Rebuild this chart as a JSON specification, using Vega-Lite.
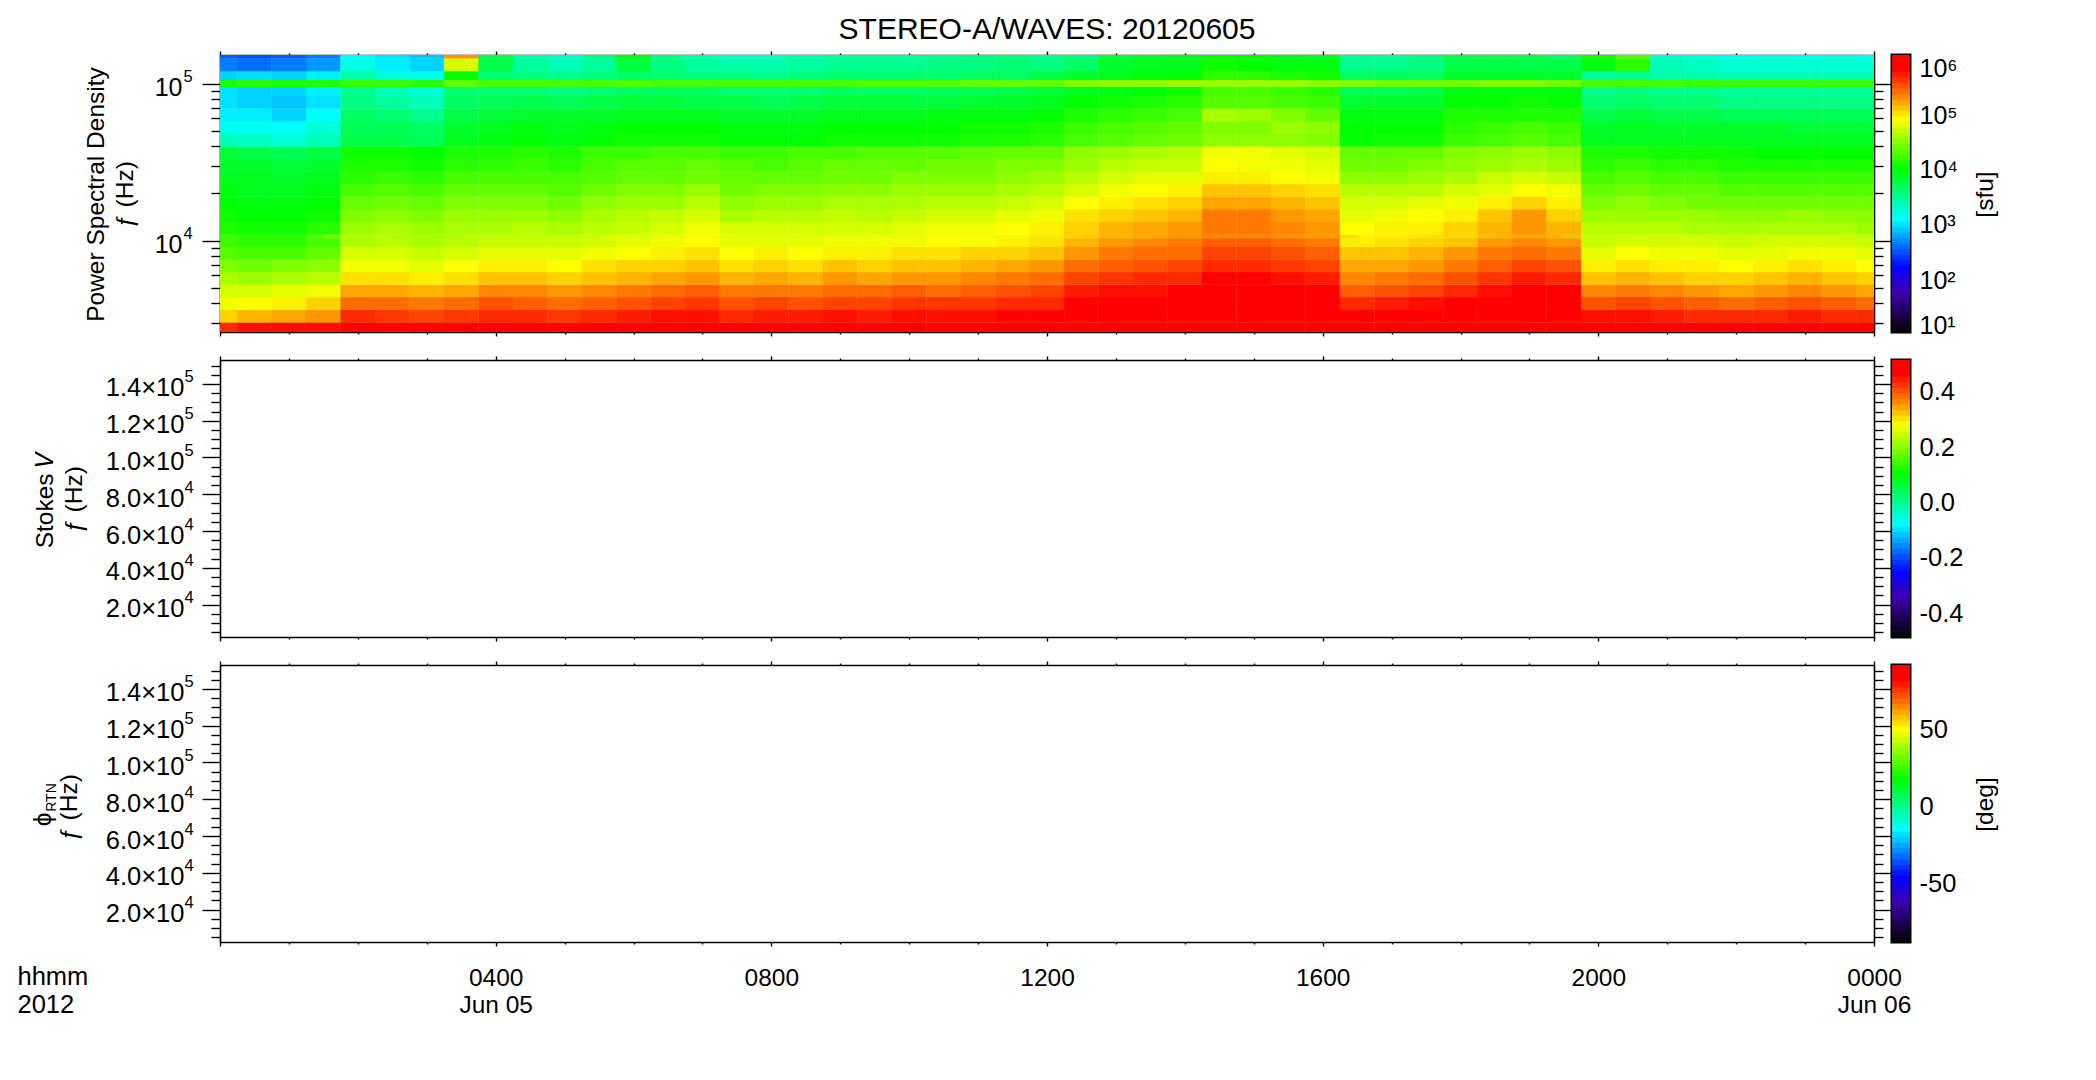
{"$schema":"https://vega.github.io/schema/vega-lite/v6.json","background":"white","padding":{"left":17,"top":15,"right":5,"bottom":5},"autosize":{"type":"pad"},
"config":{"view":{"stroke":null},"axis":{"grid":false,"labelFont":"Liberation Sans","titleFont":"Liberation Sans","labelFontSize":24.5,"titleFontSize":24.5,"titleFontWeight":"normal","labelColor":"black","titleColor":"black","domainColor":"black","tickColor":"black","domainWidth":1.6,"tickWidth":1.4,"labelOverlap":false,"labelFlush":false,"labelBound":false,"zindex":1},"axisY":{"labelFontSize":25}},
"datasets":{"cb":[{"c":0.01,"v":1.05},{"c":0.03,"v":1.15},{"c":0.05,"v":1.25},{"c":0.07,"v":1.35},{"c":0.09,"v":1.45},{"c":0.11,"v":1.55},{"c":0.13,"v":1.65},{"c":0.15,"v":1.75},{"c":0.17,"v":1.85},{"c":0.19,"v":1.95},{"c":0.21,"v":2.05},{"c":0.23,"v":2.15},{"c":0.25,"v":2.25},{"c":0.27,"v":2.35},{"c":0.29,"v":2.45},{"c":0.31,"v":2.55},{"c":0.33,"v":2.65},{"c":0.35,"v":2.75},{"c":0.37,"v":2.85},{"c":0.39,"v":2.95},{"c":0.41,"v":3.05},{"c":0.43,"v":3.15},{"c":0.45,"v":3.25},{"c":0.47,"v":3.35},{"c":0.49,"v":3.45},{"c":0.51,"v":3.55},{"c":0.53,"v":3.65},{"c":0.55,"v":3.75},{"c":0.57,"v":3.85},{"c":0.59,"v":3.95},{"c":0.61,"v":4.05},{"c":0.63,"v":4.15},{"c":0.65,"v":4.25},{"c":0.67,"v":4.35},{"c":0.69,"v":4.45},{"c":0.71,"v":4.55},{"c":0.73,"v":4.65},{"c":0.75,"v":4.75},{"c":0.77,"v":4.85},{"c":0.79,"v":4.95},{"c":0.81,"v":5.05},{"c":0.83,"v":5.15},{"c":0.85,"v":5.25},{"c":0.87,"v":5.35},{"c":0.89,"v":5.45},{"c":0.91,"v":5.55},{"c":0.93,"v":5.65},{"c":0.95,"v":5.75},{"c":0.97,"v":5.85},{"c":0.99,"v":5.95}],
"line5":[{"t":0,"f":100000,"v":4.05},{"t":0.5,"f":100000,"v":4.1},{"t":1,"f":100000,"v":4.05},{"t":1.5,"f":100000,"v":4.05},{"t":2,"f":100000,"v":4.15},{"t":2.5,"f":100000,"v":4.15},{"t":3,"f":100000,"v":4.1},{"t":3.5,"f":100000,"v":4.3},{"t":4,"f":100000,"v":4.2},{"t":4.5,"f":100000,"v":4.2},{"t":5,"f":100000,"v":4.2},{"t":5.5,"f":100000,"v":4.2},{"t":6,"f":100000,"v":4.25},{"t":6.5,"f":100000,"v":4.2},{"t":7,"f":100000,"v":4.2},{"t":7.5,"f":100000,"v":4.2},{"t":8,"f":100000,"v":4.2},{"t":8.5,"f":100000,"v":4.2},{"t":9,"f":100000,"v":4.2},{"t":9.5,"f":100000,"v":4.25},{"t":10,"f":100000,"v":4.25},{"t":10.5,"f":100000,"v":4.25},{"t":11,"f":100000,"v":4.3},{"t":11.5,"f":100000,"v":4.3},{"t":12,"f":100000,"v":4.3},{"t":12.5,"f":100000,"v":4.4},{"t":13,"f":100000,"v":4.45},{"t":13.5,"f":100000,"v":4.45},{"t":14,"f":100000,"v":4.5},{"t":14.5,"f":100000,"v":4.5},{"t":15,"f":100000,"v":4.5},{"t":15.5,"f":100000,"v":4.5},{"t":16,"f":100000,"v":4.45},{"t":16.5,"f":100000,"v":4.4},{"t":17,"f":100000,"v":4.35},{"t":17.5,"f":100000,"v":4.35},{"t":18,"f":100000,"v":4.35},{"t":18.5,"f":100000,"v":4.4},{"t":19,"f":100000,"v":4.4},{"t":19.5,"f":100000,"v":4.35},{"t":20,"f":100000,"v":4.2},{"t":20.5,"f":100000,"v":4.2},{"t":21,"f":100000,"v":4.2},{"t":21.5,"f":100000,"v":4.15},{"t":22,"f":100000,"v":4.15},{"t":22.5,"f":100000,"v":4.15},{"t":23,"f":100000,"v":4.15},{"t":23.5,"f":100000,"v":4.15},{"t":24,"f":100000,"v":4.15}],
"line4":[{"t":2,"f":10600,"v":4.6},{"t":3,"f":10600,"v":4.55},{"t":4,"f":10600,"v":4.6},{"t":5,"f":10600,"v":4.6},{"t":6,"f":10600,"v":4.7},{"t":7,"f":10600,"v":4.75},{"t":8,"f":10600,"v":4.7},{"t":9,"f":10600,"v":4.7},{"t":10,"f":10600,"v":4.75},{"t":11,"f":10600,"v":4.75},{"t":12,"f":10600,"v":4.8},{"t":13,"f":10600,"v":4.95},{"t":14,"f":10600,"v":5.05},{"t":15,"f":10600,"v":5.1},{"t":16,"f":10600,"v":5.05},{"t":17,"f":10600,"v":4.85},{"t":18,"f":10600,"v":4.9},{"t":19,"f":10600,"v":5},{"t":20,"f":10600,"v":4.65},{"t":21,"f":10600,"v":4.65},{"t":22,"f":10600,"v":4.6},{"t":23,"f":10600,"v":4.65},{"t":24,"f":10600,"v":4.6}],
"hm":[
{"t":0,"f":2754,"v":5.6},{"t":0,"f":3311,"v":5},{"t":0,"f":3981,"v":4.8},{"t":0,"f":4786,"v":4.7},{"t":0,"f":5754,"v":4.55},{"t":0,"f":6918,"v":4.4},{"t":0,"f":8318,"v":4.25},{"t":0,"f":10000,"v":4.15},{"t":0,"f":12023,"v":4.05},{"t":0,"f":14454,"v":4},{"t":0,"f":17378,"v":3.95},{"t":0,"f":20893,"v":3.9},{"t":0,"f":25119,"v":3.85},{"t":0,"f":30200,"v":3.8},{"t":0,"f":36308,"v":3.75},{"t":0,"f":43652,"v":3.3},{"t":0,"f":52481,"v":3.1},{"t":0,"f":63096,"v":3},{"t":0,"f":75858,"v":2.95},{"t":0,"f":91201,"v":2.95},{"t":0,"f":109648,"v":2.9},{"t":0,"f":131826,"v":2.6},{"t":0,"f":158489,"v":2.5},
{"t":0.5,"f":2754,"v":5.7},{"t":0.5,"f":3311,"v":5.1},{"t":0.5,"f":3981,"v":4.85},{"t":0.5,"f":4786,"v":4.7},{"t":0.5,"f":5754,"v":4.5},{"t":0.5,"f":6918,"v":4.35},{"t":0.5,"f":8318,"v":4.2},{"t":0.5,"f":10000,"v":4.1},{"t":0.5,"f":12023,"v":4},{"t":0.5,"f":14454,"v":3.95},{"t":0.5,"f":17378,"v":3.9},{"t":0.5,"f":20893,"v":3.85},{"t":0.5,"f":25119,"v":3.85},{"t":0.5,"f":30200,"v":3.8},{"t":0.5,"f":36308,"v":3.7},{"t":0.5,"f":43652,"v":3.25},{"t":0.5,"f":52481,"v":3.1},{"t":0.5,"f":63096,"v":3},{"t":0.5,"f":75858,"v":2.9},{"t":0.5,"f":91201,"v":2.9},{"t":0.5,"f":109648,"v":2.95},{"t":0.5,"f":131826,"v":2.55},{"t":0.5,"f":158489,"v":2.45},
{"t":1,"f":2754,"v":5.7},{"t":1,"f":3311,"v":5.15},{"t":1,"f":3981,"v":4.9},{"t":1,"f":4786,"v":4.75},{"t":1,"f":5754,"v":4.55},{"t":1,"f":6918,"v":4.4},{"t":1,"f":8318,"v":4.2},{"t":1,"f":10000,"v":4.1},{"t":1,"f":12023,"v":4},{"t":1,"f":14454,"v":3.95},{"t":1,"f":17378,"v":3.9},{"t":1,"f":20893,"v":3.85},{"t":1,"f":25119,"v":3.8},{"t":1,"f":30200,"v":3.75},{"t":1,"f":36308,"v":3.65},{"t":1,"f":43652,"v":3.2},{"t":1,"f":52481,"v":3.05},{"t":1,"f":63096,"v":2.9},{"t":1,"f":75858,"v":2.85},{"t":1,"f":91201,"v":2.9},{"t":1,"f":109648,"v":2.9},{"t":1,"f":131826,"v":2.6},{"t":1,"f":158489,"v":2.5},
{"t":1.5,"f":2754,"v":5.7},{"t":1.5,"f":3311,"v":5.2},{"t":1.5,"f":3981,"v":5},{"t":1.5,"f":4786,"v":4.8},{"t":1.5,"f":5754,"v":4.6},{"t":1.5,"f":6918,"v":4.45},{"t":1.5,"f":8318,"v":4.3},{"t":1.5,"f":10000,"v":4.2},{"t":1.5,"f":12023,"v":4.1},{"t":1.5,"f":14454,"v":4},{"t":1.5,"f":17378,"v":3.95},{"t":1.5,"f":20893,"v":3.9},{"t":1.5,"f":25119,"v":3.85},{"t":1.5,"f":30200,"v":3.8},{"t":1.5,"f":36308,"v":3.7},{"t":1.5,"f":43652,"v":3.3},{"t":1.5,"f":52481,"v":3.2},{"t":1.5,"f":63096,"v":3.05},{"t":1.5,"f":75858,"v":2.95},{"t":1.5,"f":91201,"v":3},{"t":1.5,"f":109648,"v":3},{"t":1.5,"f":131826,"v":2.7},{"t":1.5,"f":158489,"v":2.6},
{"t":2,"f":2754,"v":5.8},{"t":2,"f":3311,"v":5.6},{"t":2,"f":3981,"v":5.35},{"t":2,"f":4786,"v":5.15},{"t":2,"f":5754,"v":4.95},{"t":2,"f":6918,"v":4.8},{"t":2,"f":8318,"v":4.7},{"t":2,"f":10000,"v":4.55},{"t":2,"f":12023,"v":4.5},{"t":2,"f":14454,"v":4.4},{"t":2,"f":17378,"v":4.3},{"t":2,"f":20893,"v":4.2},{"t":2,"f":25119,"v":4.1},{"t":2,"f":30200,"v":4.05},{"t":2,"f":36308,"v":4},{"t":2,"f":43652,"v":3.7},{"t":2,"f":52481,"v":3.65},{"t":2,"f":63096,"v":3.6},{"t":2,"f":75858,"v":3.5},{"t":2,"f":91201,"v":3.45},{"t":2,"f":109648,"v":3.35},{"t":2,"f":131826,"v":3.15},{"t":2,"f":158489,"v":3.05},
{"t":2.5,"f":2754,"v":5.8},{"t":2.5,"f":3311,"v":5.55},{"t":2.5,"f":3981,"v":5.35},{"t":2.5,"f":4786,"v":5.15},{"t":2.5,"f":5754,"v":4.95},{"t":2.5,"f":6918,"v":4.8},{"t":2.5,"f":8318,"v":4.7},{"t":2.5,"f":10000,"v":4.6},{"t":2.5,"f":12023,"v":4.55},{"t":2.5,"f":14454,"v":4.45},{"t":2.5,"f":17378,"v":4.35},{"t":2.5,"f":20893,"v":4.25},{"t":2.5,"f":25119,"v":4.15},{"t":2.5,"f":30200,"v":4.05},{"t":2.5,"f":36308,"v":4},{"t":2.5,"f":43652,"v":3.7},{"t":2.5,"f":52481,"v":3.65},{"t":2.5,"f":63096,"v":3.55},{"t":2.5,"f":75858,"v":3.4},{"t":2.5,"f":91201,"v":3.3},{"t":2.5,"f":109648,"v":3.15},{"t":2.5,"f":131826,"v":3},{"t":2.5,"f":158489,"v":2.95},
{"t":3,"f":2754,"v":5.75},{"t":3,"f":3311,"v":5.5},{"t":3,"f":3981,"v":5.3},{"t":3,"f":4786,"v":5.1},{"t":3,"f":5754,"v":4.9},{"t":3,"f":6918,"v":4.75},{"t":3,"f":8318,"v":4.65},{"t":3,"f":10000,"v":4.55},{"t":3,"f":12023,"v":4.5},{"t":3,"f":14454,"v":4.4},{"t":3,"f":17378,"v":4.3},{"t":3,"f":20893,"v":4.2},{"t":3,"f":25119,"v":4.1},{"t":3,"f":30200,"v":4},{"t":3,"f":36308,"v":3.95},{"t":3,"f":43652,"v":3.65},{"t":3,"f":52481,"v":3.6},{"t":3,"f":63096,"v":3.45},{"t":3,"f":75858,"v":3.3},{"t":3,"f":91201,"v":3.2},{"t":3,"f":109648,"v":3.1},{"t":3,"f":131826,"v":2.9},{"t":3,"f":158489,"v":2.85},
{"t":3.5,"f":2754,"v":5.8},{"t":3.5,"f":3311,"v":5.55},{"t":3.5,"f":3981,"v":5.35},{"t":3.5,"f":4786,"v":5.15},{"t":3.5,"f":5754,"v":4.95},{"t":3.5,"f":6918,"v":4.85},{"t":3.5,"f":8318,"v":4.7},{"t":3.5,"f":10000,"v":4.6},{"t":3.5,"f":12023,"v":4.55},{"t":3.5,"f":14454,"v":4.5},{"t":3.5,"f":17378,"v":4.4},{"t":3.5,"f":20893,"v":4.3},{"t":3.5,"f":25119,"v":4.2},{"t":3.5,"f":30200,"v":4.1},{"t":3.5,"f":36308,"v":4.05},{"t":3.5,"f":43652,"v":3.85},{"t":3.5,"f":52481,"v":3.8},{"t":3.5,"f":63096,"v":3.7},{"t":3.5,"f":75858,"v":3.6},{"t":3.5,"f":91201,"v":3.55},{"t":3.5,"f":109648,"v":3.95},{"t":3.5,"f":131826,"v":4.7},{"t":3.5,"f":158489,"v":5.2},
{"t":4,"f":2754,"v":5.85},{"t":4,"f":3311,"v":5.6},{"t":4,"f":3981,"v":5.45},{"t":4,"f":4786,"v":5.25},{"t":4,"f":5754,"v":5.05},{"t":4,"f":6918,"v":4.9},{"t":4,"f":8318,"v":4.75},{"t":4,"f":10000,"v":4.65},{"t":4,"f":12023,"v":4.55},{"t":4,"f":14454,"v":4.5},{"t":4,"f":17378,"v":4.4},{"t":4,"f":20893,"v":4.3},{"t":4,"f":25119,"v":4.2},{"t":4,"f":30200,"v":4.1},{"t":4,"f":36308,"v":4.05},{"t":4,"f":43652,"v":3.9},{"t":4,"f":52481,"v":3.85},{"t":4,"f":63096,"v":3.75},{"t":4,"f":75858,"v":3.65},{"t":4,"f":91201,"v":3.55},{"t":4,"f":109648,"v":3.55},{"t":4,"f":131826,"v":3.7},{"t":4,"f":158489,"v":3.7},
{"t":4.5,"f":2754,"v":5.8},{"t":4.5,"f":3311,"v":5.6},{"t":4.5,"f":3981,"v":5.4},{"t":4.5,"f":4786,"v":5.25},{"t":4.5,"f":5754,"v":5.05},{"t":4.5,"f":6918,"v":4.9},{"t":4.5,"f":8318,"v":4.75},{"t":4.5,"f":10000,"v":4.65},{"t":4.5,"f":12023,"v":4.6},{"t":4.5,"f":14454,"v":4.5},{"t":4.5,"f":17378,"v":4.4},{"t":4.5,"f":20893,"v":4.3},{"t":4.5,"f":25119,"v":4.2},{"t":4.5,"f":30200,"v":4.15},{"t":4.5,"f":36308,"v":4.1},{"t":4.5,"f":43652,"v":3.95},{"t":4.5,"f":52481,"v":3.9},{"t":4.5,"f":63096,"v":3.8},{"t":4.5,"f":75858,"v":3.7},{"t":4.5,"f":91201,"v":3.55},{"t":4.5,"f":109648,"v":3.5},{"t":4.5,"f":131826,"v":3.4},{"t":4.5,"f":158489,"v":3.35},
{"t":5,"f":2754,"v":5.75},{"t":5,"f":3311,"v":5.55},{"t":5,"f":3981,"v":5.35},{"t":5,"f":4786,"v":5.2},{"t":5,"f":5754,"v":5},{"t":5,"f":6918,"v":4.85},{"t":5,"f":8318,"v":4.75},{"t":5,"f":10000,"v":4.65},{"t":5,"f":12023,"v":4.55},{"t":5,"f":14454,"v":4.45},{"t":5,"f":17378,"v":4.35},{"t":5,"f":20893,"v":4.25},{"t":5,"f":25119,"v":4.2},{"t":5,"f":30200,"v":4.1},{"t":5,"f":36308,"v":4.05},{"t":5,"f":43652,"v":3.9},{"t":5,"f":52481,"v":3.85},{"t":5,"f":63096,"v":3.8},{"t":5,"f":75858,"v":3.65},{"t":5,"f":91201,"v":3.5},{"t":5,"f":109648,"v":3.45},{"t":5,"f":131826,"v":3.3},{"t":5,"f":158489,"v":3.25},
{"t":5.5,"f":2754,"v":5.8},{"t":5.5,"f":3311,"v":5.6},{"t":5.5,"f":3981,"v":5.4},{"t":5.5,"f":4786,"v":5.25},{"t":5.5,"f":5754,"v":5.05},{"t":5.5,"f":6918,"v":4.95},{"t":5.5,"f":8318,"v":4.8},{"t":5.5,"f":10000,"v":4.7},{"t":5.5,"f":12023,"v":4.6},{"t":5.5,"f":14454,"v":4.55},{"t":5.5,"f":17378,"v":4.45},{"t":5.5,"f":20893,"v":4.35},{"t":5.5,"f":25119,"v":4.25},{"t":5.5,"f":30200,"v":4.2},{"t":5.5,"f":36308,"v":4.15},{"t":5.5,"f":43652,"v":3.95},{"t":5.5,"f":52481,"v":3.9},{"t":5.5,"f":63096,"v":3.8},{"t":5.5,"f":75858,"v":3.7},{"t":5.5,"f":91201,"v":3.55},{"t":5.5,"f":109648,"v":3.5},{"t":5.5,"f":131826,"v":3.4},{"t":5.5,"f":158489,"v":3.5},
{"t":6,"f":2754,"v":5.85},{"t":6,"f":3311,"v":5.65},{"t":6,"f":3981,"v":5.45},{"t":6,"f":4786,"v":5.3},{"t":6,"f":5754,"v":5.1},{"t":6,"f":6918,"v":5},{"t":6,"f":8318,"v":4.85},{"t":6,"f":10000,"v":4.75},{"t":6,"f":12023,"v":4.65},{"t":6,"f":14454,"v":4.6},{"t":6,"f":17378,"v":4.5},{"t":6,"f":20893,"v":4.4},{"t":6,"f":25119,"v":4.3},{"t":6,"f":30200,"v":4.25},{"t":6,"f":36308,"v":4.15},{"t":6,"f":43652,"v":4},{"t":6,"f":52481,"v":3.95},{"t":6,"f":63096,"v":3.85},{"t":6,"f":75858,"v":3.75},{"t":6,"f":91201,"v":3.6},{"t":6,"f":109648,"v":3.6},{"t":6,"f":131826,"v":3.75},{"t":6,"f":158489,"v":3.9},
{"t":6.5,"f":2754,"v":5.85},{"t":6.5,"f":3311,"v":5.7},{"t":6.5,"f":3981,"v":5.5},{"t":6.5,"f":4786,"v":5.35},{"t":6.5,"f":5754,"v":5.15},{"t":6.5,"f":6918,"v":5},{"t":6.5,"f":8318,"v":4.9},{"t":6.5,"f":10000,"v":4.8},{"t":6.5,"f":12023,"v":4.7},{"t":6.5,"f":14454,"v":4.65},{"t":6.5,"f":17378,"v":4.5},{"t":6.5,"f":20893,"v":4.4},{"t":6.5,"f":25119,"v":4.3},{"t":6.5,"f":30200,"v":4.25},{"t":6.5,"f":36308,"v":4.2},{"t":6.5,"f":43652,"v":4},{"t":6.5,"f":52481,"v":3.95},{"t":6.5,"f":63096,"v":3.85},{"t":6.5,"f":75858,"v":3.75},{"t":6.5,"f":91201,"v":3.6},{"t":6.5,"f":109648,"v":3.55},{"t":6.5,"f":131826,"v":3.5},{"t":6.5,"f":158489,"v":3.5},
{"t":7,"f":2754,"v":5.9},{"t":7,"f":3311,"v":5.7},{"t":7,"f":3981,"v":5.55},{"t":7,"f":4786,"v":5.4},{"t":7,"f":5754,"v":5.2},{"t":7,"f":6918,"v":5.05},{"t":7,"f":8318,"v":4.95},{"t":7,"f":10000,"v":4.85},{"t":7,"f":12023,"v":4.8},{"t":7,"f":14454,"v":4.7},{"t":7,"f":17378,"v":4.6},{"t":7,"f":20893,"v":4.5},{"t":7,"f":25119,"v":4.35},{"t":7,"f":30200,"v":4.3},{"t":7,"f":36308,"v":4.2},{"t":7,"f":43652,"v":4},{"t":7,"f":52481,"v":3.95},{"t":7,"f":63096,"v":3.85},{"t":7,"f":75858,"v":3.7},{"t":7,"f":91201,"v":3.6},{"t":7,"f":109648,"v":3.5},{"t":7,"f":131826,"v":3.4},{"t":7,"f":158489,"v":3.35},
{"t":7.5,"f":2754,"v":5.8},{"t":7.5,"f":3311,"v":5.6},{"t":7.5,"f":3981,"v":5.45},{"t":7.5,"f":4786,"v":5.3},{"t":7.5,"f":5754,"v":5.1},{"t":7.5,"f":6918,"v":4.95},{"t":7.5,"f":8318,"v":4.85},{"t":7.5,"f":10000,"v":4.75},{"t":7.5,"f":12023,"v":4.7},{"t":7.5,"f":14454,"v":4.55},{"t":7.5,"f":17378,"v":4.45},{"t":7.5,"f":20893,"v":4.35},{"t":7.5,"f":25119,"v":4.3},{"t":7.5,"f":30200,"v":4.25},{"t":7.5,"f":36308,"v":4.15},{"t":7.5,"f":43652,"v":3.95},{"t":7.5,"f":52481,"v":3.9},{"t":7.5,"f":63096,"v":3.8},{"t":7.5,"f":75858,"v":3.7},{"t":7.5,"f":91201,"v":3.55},{"t":7.5,"f":109648,"v":3.5},{"t":7.5,"f":131826,"v":3.35},{"t":7.5,"f":158489,"v":3.3},
{"t":8,"f":2754,"v":5.85},{"t":8,"f":3311,"v":5.65},{"t":8,"f":3981,"v":5.5},{"t":8,"f":4786,"v":5.3},{"t":8,"f":5754,"v":5.15},{"t":8,"f":6918,"v":5},{"t":8,"f":8318,"v":4.9},{"t":8,"f":10000,"v":4.75},{"t":8,"f":12023,"v":4.7},{"t":8,"f":14454,"v":4.6},{"t":8,"f":17378,"v":4.5},{"t":8,"f":20893,"v":4.4},{"t":8,"f":25119,"v":4.3},{"t":8,"f":30200,"v":4.2},{"t":8,"f":36308,"v":4.15},{"t":8,"f":43652,"v":3.95},{"t":8,"f":52481,"v":3.9},{"t":8,"f":63096,"v":3.8},{"t":8,"f":75858,"v":3.65},{"t":8,"f":91201,"v":3.55},{"t":8,"f":109648,"v":3.45},{"t":8,"f":131826,"v":3.35},{"t":8,"f":158489,"v":3.3},
{"t":8.5,"f":2754,"v":5.8},{"t":8.5,"f":3311,"v":5.65},{"t":8.5,"f":3981,"v":5.45},{"t":8.5,"f":4786,"v":5.3},{"t":8.5,"f":5754,"v":5.1},{"t":8.5,"f":6918,"v":4.95},{"t":8.5,"f":8318,"v":4.85},{"t":8.5,"f":10000,"v":4.75},{"t":8.5,"f":12023,"v":4.7},{"t":8.5,"f":14454,"v":4.6},{"t":8.5,"f":17378,"v":4.5},{"t":8.5,"f":20893,"v":4.4},{"t":8.5,"f":25119,"v":4.3},{"t":8.5,"f":30200,"v":4.25},{"t":8.5,"f":36308,"v":4.2},{"t":8.5,"f":43652,"v":3.95},{"t":8.5,"f":52481,"v":3.9},{"t":8.5,"f":63096,"v":3.8},{"t":8.5,"f":75858,"v":3.7},{"t":8.5,"f":91201,"v":3.55},{"t":8.5,"f":109648,"v":3.5},{"t":8.5,"f":131826,"v":3.4},{"t":8.5,"f":158489,"v":3.35},
{"t":9,"f":2754,"v":5.85},{"t":9,"f":3311,"v":5.7},{"t":9,"f":3981,"v":5.5},{"t":9,"f":4786,"v":5.35},{"t":9,"f":5754,"v":5.2},{"t":9,"f":6918,"v":5.05},{"t":9,"f":8318,"v":4.9},{"t":9,"f":10000,"v":4.8},{"t":9,"f":12023,"v":4.7},{"t":9,"f":14454,"v":4.65},{"t":9,"f":17378,"v":4.55},{"t":9,"f":20893,"v":4.45},{"t":9,"f":25119,"v":4.35},{"t":9,"f":30200,"v":4.3},{"t":9,"f":36308,"v":4.2},{"t":9,"f":43652,"v":4},{"t":9,"f":52481,"v":3.95},{"t":9,"f":63096,"v":3.85},{"t":9,"f":75858,"v":3.75},{"t":9,"f":91201,"v":3.6},{"t":9,"f":109648,"v":3.55},{"t":9,"f":131826,"v":3.45},{"t":9,"f":158489,"v":3.4},
{"t":9.5,"f":2754,"v":5.85},{"t":9.5,"f":3311,"v":5.65},{"t":9.5,"f":3981,"v":5.5},{"t":9.5,"f":4786,"v":5.35},{"t":9.5,"f":5754,"v":5.15},{"t":9.5,"f":6918,"v":5},{"t":9.5,"f":8318,"v":4.9},{"t":9.5,"f":10000,"v":4.8},{"t":9.5,"f":12023,"v":4.7},{"t":9.5,"f":14454,"v":4.6},{"t":9.5,"f":17378,"v":4.55},{"t":9.5,"f":20893,"v":4.45},{"t":9.5,"f":25119,"v":4.35},{"t":9.5,"f":30200,"v":4.3},{"t":9.5,"f":36308,"v":4.25},{"t":9.5,"f":43652,"v":4},{"t":9.5,"f":52481,"v":3.95},{"t":9.5,"f":63096,"v":3.85},{"t":9.5,"f":75858,"v":3.75},{"t":9.5,"f":91201,"v":3.6},{"t":9.5,"f":109648,"v":3.55},{"t":9.5,"f":131826,"v":3.45},{"t":9.5,"f":158489,"v":3.4},
{"t":10,"f":2754,"v":5.85},{"t":10,"f":3311,"v":5.7},{"t":10,"f":3981,"v":5.55},{"t":10,"f":4786,"v":5.4},{"t":10,"f":5754,"v":5.2},{"t":10,"f":6918,"v":5.05},{"t":10,"f":8318,"v":4.95},{"t":10,"f":10000,"v":4.8},{"t":10,"f":12023,"v":4.75},{"t":10,"f":14454,"v":4.65},{"t":10,"f":17378,"v":4.55},{"t":10,"f":20893,"v":4.5},{"t":10,"f":25119,"v":4.4},{"t":10,"f":30200,"v":4.3},{"t":10,"f":36308,"v":4.25},{"t":10,"f":43652,"v":4},{"t":10,"f":52481,"v":3.95},{"t":10,"f":63096,"v":3.85},{"t":10,"f":75858,"v":3.75},{"t":10,"f":91201,"v":3.6},{"t":10,"f":109648,"v":3.55},{"t":10,"f":131826,"v":3.45},{"t":10,"f":158489,"v":3.4},
{"t":10.5,"f":2754,"v":5.85},{"t":10.5,"f":3311,"v":5.7},{"t":10.5,"f":3981,"v":5.55},{"t":10.5,"f":4786,"v":5.35},{"t":10.5,"f":5754,"v":5.2},{"t":10.5,"f":6918,"v":5.05},{"t":10.5,"f":8318,"v":4.95},{"t":10.5,"f":10000,"v":4.85},{"t":10.5,"f":12023,"v":4.8},{"t":10.5,"f":14454,"v":4.7},{"t":10.5,"f":17378,"v":4.6},{"t":10.5,"f":20893,"v":4.5},{"t":10.5,"f":25119,"v":4.4},{"t":10.5,"f":30200,"v":4.35},{"t":10.5,"f":36308,"v":4.25},{"t":10.5,"f":43652,"v":4},{"t":10.5,"f":52481,"v":3.95},{"t":10.5,"f":63096,"v":3.9},{"t":10.5,"f":75858,"v":3.75},{"t":10.5,"f":91201,"v":3.65},{"t":10.5,"f":109648,"v":3.55},{"t":10.5,"f":131826,"v":3.5},{"t":10.5,"f":158489,"v":3.45},
{"t":11,"f":2754,"v":5.9},{"t":11,"f":3311,"v":5.7},{"t":11,"f":3981,"v":5.55},{"t":11,"f":4786,"v":5.4},{"t":11,"f":5754,"v":5.25},{"t":11,"f":6918,"v":5.1},{"t":11,"f":8318,"v":5},{"t":11,"f":10000,"v":4.85},{"t":11,"f":12023,"v":4.8},{"t":11,"f":14454,"v":4.7},{"t":11,"f":17378,"v":4.6},{"t":11,"f":20893,"v":4.5},{"t":11,"f":25119,"v":4.4},{"t":11,"f":30200,"v":4.35},{"t":11,"f":36308,"v":4.3},{"t":11,"f":43652,"v":4.05},{"t":11,"f":52481,"v":4},{"t":11,"f":63096,"v":3.9},{"t":11,"f":75858,"v":3.8},{"t":11,"f":91201,"v":3.65},{"t":11,"f":109648,"v":3.6},{"t":11,"f":131826,"v":3.5},{"t":11,"f":158489,"v":3.5},
{"t":11.5,"f":2754,"v":5.9},{"t":11.5,"f":3311,"v":5.75},{"t":11.5,"f":3981,"v":5.6},{"t":11.5,"f":4786,"v":5.45},{"t":11.5,"f":5754,"v":5.3},{"t":11.5,"f":6918,"v":5.15},{"t":11.5,"f":8318,"v":5},{"t":11.5,"f":10000,"v":4.9},{"t":11.5,"f":12023,"v":4.85},{"t":11.5,"f":14454,"v":4.75},{"t":11.5,"f":17378,"v":4.65},{"t":11.5,"f":20893,"v":4.55},{"t":11.5,"f":25119,"v":4.45},{"t":11.5,"f":30200,"v":4.4},{"t":11.5,"f":36308,"v":4.3},{"t":11.5,"f":43652,"v":4.05},{"t":11.5,"f":52481,"v":4},{"t":11.5,"f":63096,"v":3.9},{"t":11.5,"f":75858,"v":3.8},{"t":11.5,"f":91201,"v":3.7},{"t":11.5,"f":109648,"v":3.6},{"t":11.5,"f":131826,"v":3.55},{"t":11.5,"f":158489,"v":3.5},
{"t":12,"f":2754,"v":5.9},{"t":12,"f":3311,"v":5.75},{"t":12,"f":3981,"v":5.6},{"t":12,"f":4786,"v":5.5},{"t":12,"f":5754,"v":5.35},{"t":12,"f":6918,"v":5.2},{"t":12,"f":8318,"v":5.05},{"t":12,"f":10000,"v":4.95},{"t":12,"f":12023,"v":4.9},{"t":12,"f":14454,"v":4.8},{"t":12,"f":17378,"v":4.7},{"t":12,"f":20893,"v":4.6},{"t":12,"f":25119,"v":4.5},{"t":12,"f":30200,"v":4.4},{"t":12,"f":36308,"v":4.3},{"t":12,"f":43652,"v":4.1},{"t":12,"f":52481,"v":4.05},{"t":12,"f":63096,"v":3.95},{"t":12,"f":75858,"v":3.85},{"t":12,"f":91201,"v":3.75},{"t":12,"f":109648,"v":3.7},{"t":12,"f":131826,"v":3.5},{"t":12,"f":158489,"v":3.45},
{"t":12.5,"f":2754,"v":5.95},{"t":12.5,"f":3311,"v":5.85},{"t":12.5,"f":3981,"v":5.75},{"t":12.5,"f":4786,"v":5.65},{"t":12.5,"f":5754,"v":5.5},{"t":12.5,"f":6918,"v":5.35},{"t":12.5,"f":8318,"v":5.2},{"t":12.5,"f":10000,"v":5.1},{"t":12.5,"f":12023,"v":5},{"t":12.5,"f":14454,"v":4.95},{"t":12.5,"f":17378,"v":4.85},{"t":12.5,"f":20893,"v":4.7},{"t":12.5,"f":25119,"v":4.6},{"t":12.5,"f":30200,"v":4.5},{"t":12.5,"f":36308,"v":4.45},{"t":12.5,"f":43652,"v":4.2},{"t":12.5,"f":52481,"v":4.15},{"t":12.5,"f":63096,"v":4.05},{"t":12.5,"f":75858,"v":3.95},{"t":12.5,"f":91201,"v":3.85},{"t":12.5,"f":109648,"v":3.8},{"t":12.5,"f":131826,"v":3.6},{"t":12.5,"f":158489,"v":3.5},
{"t":13,"f":2754,"v":5.95},{"t":13,"f":3311,"v":5.9},{"t":13,"f":3981,"v":5.8},{"t":13,"f":4786,"v":5.7},{"t":13,"f":5754,"v":5.55},{"t":13,"f":6918,"v":5.4},{"t":13,"f":8318,"v":5.3},{"t":13,"f":10000,"v":5.2},{"t":13,"f":12023,"v":5.1},{"t":13,"f":14454,"v":5},{"t":13,"f":17378,"v":4.9},{"t":13,"f":20893,"v":4.8},{"t":13,"f":25119,"v":4.7},{"t":13,"f":30200,"v":4.6},{"t":13,"f":36308,"v":4.5},{"t":13,"f":43652,"v":4.25},{"t":13,"f":52481,"v":4.2},{"t":13,"f":63096,"v":4.1},{"t":13,"f":75858,"v":4},{"t":13,"f":91201,"v":3.9},{"t":13,"f":109648,"v":3.85},{"t":13,"f":131826,"v":3.8},{"t":13,"f":158489,"v":3.75},
{"t":13.5,"f":2754,"v":5.95},{"t":13.5,"f":3311,"v":5.9},{"t":13.5,"f":3981,"v":5.85},{"t":13.5,"f":4786,"v":5.7},{"t":13.5,"f":5754,"v":5.6},{"t":13.5,"f":6918,"v":5.45},{"t":13.5,"f":8318,"v":5.35},{"t":13.5,"f":10000,"v":5.25},{"t":13.5,"f":12023,"v":5.15},{"t":13.5,"f":14454,"v":5.05},{"t":13.5,"f":17378,"v":4.95},{"t":13.5,"f":20893,"v":4.85},{"t":13.5,"f":25119,"v":4.75},{"t":13.5,"f":30200,"v":4.65},{"t":13.5,"f":36308,"v":4.55},{"t":13.5,"f":43652,"v":4.3},{"t":13.5,"f":52481,"v":4.25},{"t":13.5,"f":63096,"v":4.15},{"t":13.5,"f":75858,"v":4.05},{"t":13.5,"f":91201,"v":3.95},{"t":13.5,"f":109648,"v":3.9},{"t":13.5,"f":131826,"v":3.85},{"t":13.5,"f":158489,"v":3.8},
{"t":14,"f":2754,"v":6},{"t":14,"f":3311,"v":5.95},{"t":14,"f":3981,"v":5.85},{"t":14,"f":4786,"v":5.75},{"t":14,"f":5754,"v":5.6},{"t":14,"f":6918,"v":5.5},{"t":14,"f":8318,"v":5.35},{"t":14,"f":10000,"v":5.3},{"t":14,"f":12023,"v":5.2},{"t":14,"f":14454,"v":5.1},{"t":14,"f":17378,"v":5},{"t":14,"f":20893,"v":4.9},{"t":14,"f":25119,"v":4.75},{"t":14,"f":30200,"v":4.65},{"t":14,"f":36308,"v":4.6},{"t":14,"f":43652,"v":4.35},{"t":14,"f":52481,"v":4.3},{"t":14,"f":63096,"v":4.2},{"t":14,"f":75858,"v":4.1},{"t":14,"f":91201,"v":4},{"t":14,"f":109648,"v":3.95},{"t":14,"f":131826,"v":3.85},{"t":14,"f":158489,"v":3.85},
{"t":14.5,"f":2754,"v":6},{"t":14.5,"f":3311,"v":5.95},{"t":14.5,"f":3981,"v":5.9},{"t":14.5,"f":4786,"v":5.85},{"t":14.5,"f":5754,"v":5.8},{"t":14.5,"f":6918,"v":5.6},{"t":14.5,"f":8318,"v":5.5},{"t":14.5,"f":10000,"v":5.4},{"t":14.5,"f":12023,"v":5.3},{"t":14.5,"f":14454,"v":5.3},{"t":14.5,"f":17378,"v":5.15},{"t":14.5,"f":20893,"v":5.05},{"t":14.5,"f":25119,"v":4.9},{"t":14.5,"f":30200,"v":4.85},{"t":14.5,"f":36308,"v":4.8},{"t":14.5,"f":43652,"v":4.45},{"t":14.5,"f":52481,"v":4.4},{"t":14.5,"f":63096,"v":4.55},{"t":14.5,"f":75858,"v":4.25},{"t":14.5,"f":91201,"v":4.2},{"t":14.5,"f":109648,"v":4.1},{"t":14.5,"f":131826,"v":4},{"t":14.5,"f":158489,"v":3.95},
{"t":15,"f":2754,"v":6},{"t":15,"f":3311,"v":5.95},{"t":15,"f":3981,"v":5.9},{"t":15,"f":4786,"v":5.85},{"t":15,"f":5754,"v":5.75},{"t":15,"f":6918,"v":5.6},{"t":15,"f":8318,"v":5.5},{"t":15,"f":10000,"v":5.4},{"t":15,"f":12023,"v":5.3},{"t":15,"f":14454,"v":5.3},{"t":15,"f":17378,"v":5.15},{"t":15,"f":20893,"v":5.05},{"t":15,"f":25119,"v":4.9},{"t":15,"f":30200,"v":4.8},{"t":15,"f":36308,"v":4.8},{"t":15,"f":43652,"v":4.45},{"t":15,"f":52481,"v":4.4},{"t":15,"f":63096,"v":4.5},{"t":15,"f":75858,"v":4.25},{"t":15,"f":91201,"v":4.2},{"t":15,"f":109648,"v":4.1},{"t":15,"f":131826,"v":3.95},{"t":15,"f":158489,"v":3.95},
{"t":15.5,"f":2754,"v":6},{"t":15.5,"f":3311,"v":5.95},{"t":15.5,"f":3981,"v":5.9},{"t":15.5,"f":4786,"v":5.85},{"t":15.5,"f":5754,"v":5.7},{"t":15.5,"f":6918,"v":5.55},{"t":15.5,"f":8318,"v":5.45},{"t":15.5,"f":10000,"v":5.35},{"t":15.5,"f":12023,"v":5.25},{"t":15.5,"f":14454,"v":5.2},{"t":15.5,"f":17378,"v":5.1},{"t":15.5,"f":20893,"v":5},{"t":15.5,"f":25119,"v":4.85},{"t":15.5,"f":30200,"v":4.8},{"t":15.5,"f":36308,"v":4.75},{"t":15.5,"f":43652,"v":4.45},{"t":15.5,"f":52481,"v":4.5},{"t":15.5,"f":63096,"v":4.4},{"t":15.5,"f":75858,"v":4.2},{"t":15.5,"f":91201,"v":4.15},{"t":15.5,"f":109648,"v":4.05},{"t":15.5,"f":131826,"v":3.9},{"t":15.5,"f":158489,"v":3.9},
{"t":16,"f":2754,"v":6},{"t":16,"f":3311,"v":5.95},{"t":16,"f":3981,"v":5.9},{"t":16,"f":4786,"v":5.8},{"t":16,"f":5754,"v":5.65},{"t":16,"f":6918,"v":5.5},{"t":16,"f":8318,"v":5.4},{"t":16,"f":10000,"v":5.3},{"t":16,"f":12023,"v":5.2},{"t":16,"f":14454,"v":5.15},{"t":16,"f":17378,"v":5.05},{"t":16,"f":20893,"v":4.95},{"t":16,"f":25119,"v":4.8},{"t":16,"f":30200,"v":4.75},{"t":16,"f":36308,"v":4.7},{"t":16,"f":43652,"v":4.4},{"t":16,"f":52481,"v":4.45},{"t":16,"f":63096,"v":4.3},{"t":16,"f":75858,"v":4.15},{"t":16,"f":91201,"v":4.1},{"t":16,"f":109648,"v":4},{"t":16,"f":131826,"v":3.9},{"t":16,"f":158489,"v":3.85},
{"t":16.5,"f":2754,"v":5.95},{"t":16.5,"f":3311,"v":5.85},{"t":16.5,"f":3981,"v":5.6},{"t":16.5,"f":4786,"v":5.4},{"t":16.5,"f":5754,"v":5.25},{"t":16.5,"f":6918,"v":5.15},{"t":16.5,"f":8318,"v":5.05},{"t":16.5,"f":10000,"v":4.9},{"t":16.5,"f":12023,"v":4.85},{"t":16.5,"f":14454,"v":4.75},{"t":16.5,"f":17378,"v":4.7},{"t":16.5,"f":20893,"v":4.6},{"t":16.5,"f":25119,"v":4.45},{"t":16.5,"f":30200,"v":4.35},{"t":16.5,"f":36308,"v":4.3},{"t":16.5,"f":43652,"v":3.95},{"t":16.5,"f":52481,"v":3.95},{"t":16.5,"f":63096,"v":3.9},{"t":16.5,"f":75858,"v":3.8},{"t":16.5,"f":91201,"v":3.65},{"t":16.5,"f":109648,"v":3.6},{"t":16.5,"f":131826,"v":3.45},{"t":16.5,"f":158489,"v":3.4},
{"t":17,"f":2754,"v":5.95},{"t":17,"f":3311,"v":5.85},{"t":17,"f":3981,"v":5.65},{"t":17,"f":4786,"v":5.45},{"t":17,"f":5754,"v":5.3},{"t":17,"f":6918,"v":5.15},{"t":17,"f":8318,"v":5.05},{"t":17,"f":10000,"v":4.95},{"t":17,"f":12023,"v":4.9},{"t":17,"f":14454,"v":4.8},{"t":17,"f":17378,"v":4.7},{"t":17,"f":20893,"v":4.6},{"t":17,"f":25119,"v":4.45},{"t":17,"f":30200,"v":4.35},{"t":17,"f":36308,"v":4.3},{"t":17,"f":43652,"v":4},{"t":17,"f":52481,"v":3.95},{"t":17,"f":63096,"v":3.9},{"t":17,"f":75858,"v":3.8},{"t":17,"f":91201,"v":3.65},{"t":17,"f":109648,"v":3.6},{"t":17,"f":131826,"v":3.45},{"t":17,"f":158489,"v":3.4},
{"t":17.5,"f":2754,"v":5.95},{"t":17.5,"f":3311,"v":5.85},{"t":17.5,"f":3981,"v":5.7},{"t":17.5,"f":4786,"v":5.5},{"t":17.5,"f":5754,"v":5.35},{"t":17.5,"f":6918,"v":5.2},{"t":17.5,"f":8318,"v":5.1},{"t":17.5,"f":10000,"v":5},{"t":17.5,"f":12023,"v":4.9},{"t":17.5,"f":14454,"v":4.85},{"t":17.5,"f":17378,"v":4.75},{"t":17.5,"f":20893,"v":4.6},{"t":17.5,"f":25119,"v":4.5},{"t":17.5,"f":30200,"v":4.4},{"t":17.5,"f":36308,"v":4.3},{"t":17.5,"f":43652,"v":4},{"t":17.5,"f":52481,"v":3.95},{"t":17.5,"f":63096,"v":3.9},{"t":17.5,"f":75858,"v":3.8},{"t":17.5,"f":91201,"v":3.7},{"t":17.5,"f":109648,"v":3.6},{"t":17.5,"f":131826,"v":3.5},{"t":17.5,"f":158489,"v":3.5},
{"t":18,"f":2754,"v":5.95},{"t":18,"f":3311,"v":5.9},{"t":18,"f":3981,"v":5.8},{"t":18,"f":4786,"v":5.6},{"t":18,"f":5754,"v":5.45},{"t":18,"f":6918,"v":5.3},{"t":18,"f":8318,"v":5.2},{"t":18,"f":10000,"v":5.05},{"t":18,"f":12023,"v":5},{"t":18,"f":14454,"v":4.9},{"t":18,"f":17378,"v":4.8},{"t":18,"f":20893,"v":4.7},{"t":18,"f":25119,"v":4.55},{"t":18,"f":30200,"v":4.45},{"t":18,"f":36308,"v":4.4},{"t":18,"f":43652,"v":4.15},{"t":18,"f":52481,"v":4.1},{"t":18,"f":63096,"v":4.05},{"t":18,"f":75858,"v":3.95},{"t":18,"f":91201,"v":3.9},{"t":18,"f":109648,"v":3.8},{"t":18,"f":131826,"v":3.7},{"t":18,"f":158489,"v":3.7},
{"t":18.5,"f":2754,"v":5.95},{"t":18.5,"f":3311,"v":5.9},{"t":18.5,"f":3981,"v":5.85},{"t":18.5,"f":4786,"v":5.7},{"t":18.5,"f":5754,"v":5.55},{"t":18.5,"f":6918,"v":5.4},{"t":18.5,"f":8318,"v":5.3},{"t":18.5,"f":10000,"v":5.2},{"t":18.5,"f":12023,"v":5.1},{"t":18.5,"f":14454,"v":5.05},{"t":18.5,"f":17378,"v":4.9},{"t":18.5,"f":20893,"v":4.75},{"t":18.5,"f":25119,"v":4.65},{"t":18.5,"f":30200,"v":4.5},{"t":18.5,"f":36308,"v":4.45},{"t":18.5,"f":43652,"v":4.2},{"t":18.5,"f":52481,"v":4.15},{"t":18.5,"f":63096,"v":4.05},{"t":18.5,"f":75858,"v":3.95},{"t":18.5,"f":91201,"v":3.9},{"t":18.5,"f":109648,"v":3.8},{"t":18.5,"f":131826,"v":3.7},{"t":18.5,"f":158489,"v":3.65},
{"t":19,"f":2754,"v":6},{"t":19,"f":3311,"v":5.95},{"t":19,"f":3981,"v":5.9},{"t":19,"f":4786,"v":5.8},{"t":19,"f":5754,"v":5.65},{"t":19,"f":6918,"v":5.5},{"t":19,"f":8318,"v":5.35},{"t":19,"f":10000,"v":5.25},{"t":19,"f":12023,"v":5.2},{"t":19,"f":14454,"v":5.2},{"t":19,"f":17378,"v":5},{"t":19,"f":20893,"v":4.85},{"t":19,"f":25119,"v":4.7},{"t":19,"f":30200,"v":4.55},{"t":19,"f":36308,"v":4.5},{"t":19,"f":43652,"v":4.25},{"t":19,"f":52481,"v":4.2},{"t":19,"f":63096,"v":4.05},{"t":19,"f":75858,"v":4},{"t":19,"f":91201,"v":3.9},{"t":19,"f":109648,"v":3.8},{"t":19,"f":131826,"v":3.7},{"t":19,"f":158489,"v":3.7},
{"t":19.5,"f":2754,"v":5.95},{"t":19.5,"f":3311,"v":5.9},{"t":19.5,"f":3981,"v":5.85},{"t":19.5,"f":4786,"v":5.75},{"t":19.5,"f":5754,"v":5.6},{"t":19.5,"f":6918,"v":5.45},{"t":19.5,"f":8318,"v":5.3},{"t":19.5,"f":10000,"v":5.2},{"t":19.5,"f":12023,"v":5.1},{"t":19.5,"f":14454,"v":5},{"t":19.5,"f":17378,"v":4.9},{"t":19.5,"f":20893,"v":4.8},{"t":19.5,"f":25119,"v":4.65},{"t":19.5,"f":30200,"v":4.5},{"t":19.5,"f":36308,"v":4.45},{"t":19.5,"f":43652,"v":4.2},{"t":19.5,"f":52481,"v":4.15},{"t":19.5,"f":63096,"v":4.05},{"t":19.5,"f":75858,"v":3.95},{"t":19.5,"f":91201,"v":3.9},{"t":19.5,"f":109648,"v":3.8},{"t":19.5,"f":131826,"v":3.7},{"t":19.5,"f":158489,"v":3.6},
{"t":20,"f":2754,"v":5.85},{"t":20,"f":3311,"v":5.7},{"t":20,"f":3981,"v":5.45},{"t":20,"f":4786,"v":5.25},{"t":20,"f":5754,"v":5.05},{"t":20,"f":6918,"v":4.9},{"t":20,"f":8318,"v":4.75},{"t":20,"f":10000,"v":4.65},{"t":20,"f":12023,"v":4.6},{"t":20,"f":14454,"v":4.5},{"t":20,"f":17378,"v":4.4},{"t":20,"f":20893,"v":4.3},{"t":20,"f":25119,"v":4.2},{"t":20,"f":30200,"v":4.1},{"t":20,"f":36308,"v":4.05},{"t":20,"f":43652,"v":3.85},{"t":20,"f":52481,"v":3.8},{"t":20,"f":63096,"v":3.7},{"t":20,"f":75858,"v":3.55},{"t":20,"f":91201,"v":3.45},{"t":20,"f":109648,"v":3.4},{"t":20,"f":131826,"v":3.9},{"t":20,"f":158489,"v":4},
{"t":20.5,"f":2754,"v":5.85},{"t":20.5,"f":3311,"v":5.7},{"t":20.5,"f":3981,"v":5.5},{"t":20.5,"f":4786,"v":5.3},{"t":20.5,"f":5754,"v":5.1},{"t":20.5,"f":6918,"v":4.95},{"t":20.5,"f":8318,"v":4.85},{"t":20.5,"f":10000,"v":4.7},{"t":20.5,"f":12023,"v":4.6},{"t":20.5,"f":14454,"v":4.5},{"t":20.5,"f":17378,"v":4.45},{"t":20.5,"f":20893,"v":4.35},{"t":20.5,"f":25119,"v":4.25},{"t":20.5,"f":30200,"v":4.15},{"t":20.5,"f":36308,"v":4.05},{"t":20.5,"f":43652,"v":3.85},{"t":20.5,"f":52481,"v":3.85},{"t":20.5,"f":63096,"v":3.75},{"t":20.5,"f":75858,"v":3.6},{"t":20.5,"f":91201,"v":3.5},{"t":20.5,"f":109648,"v":3.45},{"t":20.5,"f":131826,"v":4.1},{"t":20.5,"f":158489,"v":4.25},
{"t":21,"f":2754,"v":5.8},{"t":21,"f":3311,"v":5.65},{"t":21,"f":3981,"v":5.45},{"t":21,"f":4786,"v":5.25},{"t":21,"f":5754,"v":5.05},{"t":21,"f":6918,"v":4.9},{"t":21,"f":8318,"v":4.8},{"t":21,"f":10000,"v":4.7},{"t":21,"f":12023,"v":4.6},{"t":21,"f":14454,"v":4.5},{"t":21,"f":17378,"v":4.4},{"t":21,"f":20893,"v":4.3},{"t":21,"f":25119,"v":4.2},{"t":21,"f":30200,"v":4.1},{"t":21,"f":36308,"v":4},{"t":21,"f":43652,"v":3.85},{"t":21,"f":52481,"v":3.8},{"t":21,"f":63096,"v":3.7},{"t":21,"f":75858,"v":3.55},{"t":21,"f":91201,"v":3.45},{"t":21,"f":109648,"v":3.35},{"t":21,"f":131826,"v":3.3},{"t":21,"f":158489,"v":3.25},
{"t":21.5,"f":2754,"v":5.8},{"t":21.5,"f":3311,"v":5.6},{"t":21.5,"f":3981,"v":5.4},{"t":21.5,"f":4786,"v":5.2},{"t":21.5,"f":5754,"v":5},{"t":21.5,"f":6918,"v":4.9},{"t":21.5,"f":8318,"v":4.8},{"t":21.5,"f":10000,"v":4.7},{"t":21.5,"f":12023,"v":4.55},{"t":21.5,"f":14454,"v":4.5},{"t":21.5,"f":17378,"v":4.35},{"t":21.5,"f":20893,"v":4.3},{"t":21.5,"f":25119,"v":4.2},{"t":21.5,"f":30200,"v":4.1},{"t":21.5,"f":36308,"v":4},{"t":21.5,"f":43652,"v":3.85},{"t":21.5,"f":52481,"v":3.8},{"t":21.5,"f":63096,"v":3.7},{"t":21.5,"f":75858,"v":3.55},{"t":21.5,"f":91201,"v":3.45},{"t":21.5,"f":109648,"v":3.35},{"t":21.5,"f":131826,"v":3.25},{"t":21.5,"f":158489,"v":3.2},
{"t":22,"f":2754,"v":5.8},{"t":22,"f":3311,"v":5.6},{"t":22,"f":3981,"v":5.35},{"t":22,"f":4786,"v":5.15},{"t":22,"f":5754,"v":5},{"t":22,"f":6918,"v":4.85},{"t":22,"f":8318,"v":4.75},{"t":22,"f":10000,"v":4.65},{"t":22,"f":12023,"v":4.55},{"t":22,"f":14454,"v":4.45},{"t":22,"f":17378,"v":4.35},{"t":22,"f":20893,"v":4.25},{"t":22,"f":25119,"v":4.15},{"t":22,"f":30200,"v":4.05},{"t":22,"f":36308,"v":4},{"t":22,"f":43652,"v":3.85},{"t":22,"f":52481,"v":3.8},{"t":22,"f":63096,"v":3.65},{"t":22,"f":75858,"v":3.5},{"t":22,"f":91201,"v":3.4},{"t":22,"f":109648,"v":3.3},{"t":22,"f":131826,"v":3.2},{"t":22,"f":158489,"v":3.15},
{"t":22.5,"f":2754,"v":5.8},{"t":22.5,"f":3311,"v":5.6},{"t":22.5,"f":3981,"v":5.4},{"t":22.5,"f":4786,"v":5.2},{"t":22.5,"f":5754,"v":5.05},{"t":22.5,"f":6918,"v":4.9},{"t":22.5,"f":8318,"v":4.75},{"t":22.5,"f":10000,"v":4.7},{"t":22.5,"f":12023,"v":4.55},{"t":22.5,"f":14454,"v":4.45},{"t":22.5,"f":17378,"v":4.35},{"t":22.5,"f":20893,"v":4.25},{"t":22.5,"f":25119,"v":4.15},{"t":22.5,"f":30200,"v":4.05},{"t":22.5,"f":36308,"v":3.95},{"t":22.5,"f":43652,"v":3.85},{"t":22.5,"f":52481,"v":3.8},{"t":22.5,"f":63096,"v":3.65},{"t":22.5,"f":75858,"v":3.5},{"t":22.5,"f":91201,"v":3.4},{"t":22.5,"f":109648,"v":3.3},{"t":22.5,"f":131826,"v":3.2},{"t":22.5,"f":158489,"v":3.15},
{"t":23,"f":2754,"v":5.8},{"t":23,"f":3311,"v":5.65},{"t":23,"f":3981,"v":5.45},{"t":23,"f":4786,"v":5.25},{"t":23,"f":5754,"v":5.1},{"t":23,"f":6918,"v":4.95},{"t":23,"f":8318,"v":4.8},{"t":23,"f":10000,"v":4.7},{"t":23,"f":12023,"v":4.55},{"t":23,"f":14454,"v":4.5},{"t":23,"f":17378,"v":4.35},{"t":23,"f":20893,"v":4.25},{"t":23,"f":25119,"v":4.15},{"t":23,"f":30200,"v":4.05},{"t":23,"f":36308,"v":3.95},{"t":23,"f":43652,"v":3.85},{"t":23,"f":52481,"v":3.75},{"t":23,"f":63096,"v":3.65},{"t":23,"f":75858,"v":3.5},{"t":23,"f":91201,"v":3.4},{"t":23,"f":109648,"v":3.3},{"t":23,"f":131826,"v":3.2},{"t":23,"f":158489,"v":3.15},
{"t":23.5,"f":2754,"v":5.8},{"t":23.5,"f":3311,"v":5.6},{"t":23.5,"f":3981,"v":5.4},{"t":23.5,"f":4786,"v":5.2},{"t":23.5,"f":5754,"v":5.05},{"t":23.5,"f":6918,"v":4.9},{"t":23.5,"f":8318,"v":4.8},{"t":23.5,"f":10000,"v":4.7},{"t":23.5,"f":12023,"v":4.55},{"t":23.5,"f":14454,"v":4.45},{"t":23.5,"f":17378,"v":4.35},{"t":23.5,"f":20893,"v":4.25},{"t":23.5,"f":25119,"v":4.15},{"t":23.5,"f":30200,"v":4.05},{"t":23.5,"f":36308,"v":3.95},{"t":23.5,"f":43652,"v":3.85},{"t":23.5,"f":52481,"v":3.75},{"t":23.5,"f":63096,"v":3.65},{"t":23.5,"f":75858,"v":3.5},{"t":23.5,"f":91201,"v":3.4},{"t":23.5,"f":109648,"v":3.3},{"t":23.5,"f":131826,"v":3.2},{"t":23.5,"f":158489,"v":3.15},
{"t":24,"f":2754,"v":5.8},{"t":24,"f":3311,"v":5.6},{"t":24,"f":3981,"v":5.35},{"t":24,"f":4786,"v":5.15},{"t":24,"f":5754,"v":5},{"t":24,"f":6918,"v":4.85},{"t":24,"f":8318,"v":4.75},{"t":24,"f":10000,"v":4.65},{"t":24,"f":12023,"v":4.5},{"t":24,"f":14454,"v":4.45},{"t":24,"f":17378,"v":4.35},{"t":24,"f":20893,"v":4.25},{"t":24,"f":25119,"v":4.15},{"t":24,"f":30200,"v":4.05},{"t":24,"f":36308,"v":3.95},{"t":24,"f":43652,"v":3.85},{"t":24,"f":52481,"v":3.75},{"t":24,"f":63096,"v":3.65},{"t":24,"f":75858,"v":3.5},{"t":24,"f":91201,"v":3.4},{"t":24,"f":109648,"v":3.3},{"t":24,"f":131826,"v":3.2},{"t":24,"f":158489,"v":3.1}
]},
"concat":[
{"width":1654,"height":277,"title":{"text":"STEREO-A/WAVES: 20120605","font":"Liberation Sans","fontSize":30,"fontWeight":"normal","color":"black","anchor":"middle","offset":5},
"layer":[
{"data":{"name":"hm"},"mark":{"type":"rect","width":34.8,"height":12.9,"clip":true},"encoding":{
"x":{"field":"t","type":"quantitative","scale":{"domain":[0,24],"nice":false,"zero":false},"axis":{"orient":"bottom","values":[0,1,2,3,4,5,6,7,8,9,10,11,12,13,14,15,16,17,18,19,20,21,22,23,24],"labels":false,"title":null,"tickSize":{"condition":{"test":"datum.value%4==0","value":4},"value":2}}},
"y":{"field":"f","type":"quantitative","scale":{"type":"log","domain":[2620,152000],"nice":false,"zero":false},"axis":{"orient":"left","values":[3000,4000,5000,6000,7000,8000,9000,10000,20000,30000,40000,50000,60000,70000,80000,90000,100000],"tickSize":{"condition":{"test":"datum.value==10000||datum.value==100000","value":18},"value":9},"labelExpr":"datum.value==10000||datum.value==100000?'10':''","labelPadding":20,"labelOffset":4,"title":["Power Spectral Density","ƒ (Hz)"],"titleX":-124,"titleY":139,"titleLineHeight":29,"titleAngle":-90,"titleAlign":"center","titleBaseline":"middle"}},
"color":{"field":"v","type":"quantitative","legend":null,"scale":{"interpolate":"rgb","domain":[1,1.725,2.175,3.05,3.95,4.85,5.25,5.75,6],"range":["#000000","#4000b0","#0000ff","#00ffff","#00ff00","#ffff00","#ff8800","#ff0000","#ff0000"]}}}},
{"data":{"name":"line5"},"mark":{"type":"rect","width":34.8,"height":7,"clip":true},"encoding":{
"x":{"field":"t","type":"quantitative","scale":{"domain":[0,24],"nice":false,"zero":false},"axis":null},
"y":{"field":"f","type":"quantitative","scale":{"type":"log","domain":[2620,152000],"nice":false,"zero":false},"axis":null},
"color":{"field":"v","type":"quantitative","legend":null,"scale":{"interpolate":"rgb","domain":[1,1.725,2.175,3.05,3.95,4.85,5.25,5.75,6],"range":["#000000","#4000b0","#0000ff","#00ffff","#00ff00","#ffff00","#ff8800","#ff0000","#ff0000"]}}}},
{"data":{"name":"line4"},"mark":{"type":"rect","width":69.5,"height":3.5,"clip":true,"opacity":0.45},"encoding":{
"x":{"field":"t","type":"quantitative","scale":{"domain":[0,24],"nice":false,"zero":false},"axis":null},
"y":{"field":"f","type":"quantitative","scale":{"type":"log","domain":[2620,152000],"nice":false,"zero":false},"axis":null},
"color":{"field":"v","type":"quantitative","legend":null,"scale":{"interpolate":"rgb","domain":[1,1.725,2.175,3.05,3.95,4.85,5.25,5.75,6],"range":["#000000","#4000b0","#0000ff","#00ffff","#00ff00","#ffff00","#ff8800","#ff0000","#ff0000"]}}}},
{"data":{"values":[{"t":0,"f":10000}]},"mark":{"type":"point","opacity":0},"encoding":{
"x":{"field":"t","type":"quantitative","scale":{"domain":[0,24],"nice":false,"zero":false},"axis":{"orient":"top","values":[0,1,2,3,4,5,6,7,8,9,10,11,12,13,14,15,16,17,18,19,20,21,22,23,24],"labels":false,"title":null,"tickSize":{"condition":{"test":"datum.value%4==0","value":4},"value":2}}},
"y":{"field":"f","type":"quantitative","scale":{"type":"log","domain":[2620,152000],"nice":false,"zero":false},"axis":{"orient":"right","values":[3000,4000,5000,6000,7000,8000,9000,10000,20000,30000,40000,50000,60000,70000,80000,90000,100000],"labels":false,"title":null,"tickSize":{"condition":{"test":"datum.value==10000||datum.value==100000","value":18},"value":9}}}}},
{"data":{"values":[{"f":10000}]},"mark":{"type":"point","opacity":0},"encoding":{
"y":{"field":"f","type":"quantitative","scale":{"type":"log","domain":[2620,152000],"nice":false,"zero":false},"axis":{"orient":"left","domain":false,"ticks":false,"values":[10000,100000],"labelExpr":"datum.value==10000?'4':'5'","labelAlign":"left","labelFontSize":16.5,"labelPadding":37,"labelOffset":-7,"title":null}}}}
],"resolve":{"scale":{"x":"independent","y":"independent"},"axis":{"x":"independent","y":"independent"}}},
{"width":18,"height":277,"view":{"stroke":"black","strokeWidth":3},"data":{"name":"cb"},"mark":{"type":"rect","height":6.2,"width":18,"clip":true},"encoding":{"x":{"datum":0.5,"type":"quantitative","scale":{"domain":[0,1]},"axis":null},
"y":{"field":"c","type":"quantitative","scale":{"domain":[0,1],"nice":false},"axis":{"orient":"right","domain":false,"ticks":false,"values":[0.03,0.193,0.395,0.593,0.79,0.96],"labelExpr":"'10'+['¹','²','³','⁴','⁵','⁶'][round(datum.value*5)]","labelPadding":9,"labelOffset":2,"title":"[sfu]","titleX":87,"titleY":139,"titleAngle":-90}},
"color":{"field":"v","type":"quantitative","legend":null,"scale":{"interpolate":"rgb","domain":[1,1.725,2.175,3.05,3.95,4.85,5.25,5.75,6],"range":["#000000","#4000b0","#0000ff","#00ffff","#00ff00","#ffff00","#ff8800","#ff0000","#ff0000"]}}}},
{"width":1654,"height":277,"layer":[
{"data":{"values":[{"t":0,"f":10000}]},"mark":{"type":"point","opacity":0},"encoding":{
"x":{"field":"t","type":"quantitative","scale":{"domain":[0,24],"nice":false,"zero":false},"axis":{"orient":"bottom","values":[0,1,2,3,4,5,6,7,8,9,10,11,12,13,14,15,16,17,18,19,20,21,22,23,24],"labels":false,"title":null,"tickSize":{"condition":{"test":"datum.value%4==0","value":4},"value":2}}},
"y":{"field":"f","type":"quantitative","scale":{"domain":[2400,153000],"nice":false,"zero":false},"axis":{"orient":"left","values":[5000,10000,15000,20000,25000,30000,35000,40000,45000,50000,55000,60000,65000,70000,75000,80000,85000,90000,95000,100000,105000,110000,115000,120000,125000,130000,135000,140000,145000,150000],"tickSize":{"condition":{"test":"datum.value%20000==0","value":18},"value":9},"labelExpr":"datum.value%20000!=0?'':format(datum.value/(datum.value<100000?10000:100000),'.1f')+'×10'","labelFontSize":25.5,"labelPadding":18,"labelOffset":4,"title":["Stokes 𝑉","ƒ (Hz)"],"titleX":-175,"titleY":139,"titleLineHeight":29,"titleAngle":-90,"titleAlign":"center","titleBaseline":"middle"}}}},
{"data":{"values":[{"t":0,"f":10000}]},"mark":{"type":"point","opacity":0},"encoding":{
"x":{"field":"t","type":"quantitative","scale":{"domain":[0,24],"nice":false,"zero":false},"axis":{"orient":"top","values":[0,1,2,3,4,5,6,7,8,9,10,11,12,13,14,15,16,17,18,19,20,21,22,23,24],"labels":false,"title":null,"tickSize":{"condition":{"test":"datum.value%4==0","value":4},"value":2}}},
"y":{"field":"f","type":"quantitative","scale":{"domain":[2400,153000],"nice":false,"zero":false},"axis":{"orient":"right","values":[5000,10000,15000,20000,25000,30000,35000,40000,45000,50000,55000,60000,65000,70000,75000,80000,85000,90000,95000,100000,105000,110000,115000,120000,125000,130000,135000,140000,145000,150000],"labels":false,"title":null,"tickSize":{"condition":{"test":"datum.value%20000==0","value":18},"value":9}}}}},
{"data":{"values":[{"f":10000}]},"mark":{"type":"point","opacity":0},"encoding":{
"y":{"field":"f","type":"quantitative","scale":{"domain":[2400,153000],"nice":false,"zero":false},"axis":{"orient":"left","domain":false,"ticks":false,"values":[20000,40000,60000,80000,100000,120000,140000],"labelExpr":"datum.value<100000?'4':'5'","labelAlign":"left","labelFontSize":16.5,"labelPadding":36,"labelOffset":-7,"title":null}}}}
],"resolve":{"scale":{"x":"independent","y":"independent"},"axis":{"x":"independent","y":"independent"}}},
{"width":18,"height":277,"view":{"stroke":"black","strokeWidth":3},"data":{"name":"cb"},"mark":{"type":"rect","height":6.2,"width":18,"clip":true},"encoding":{"x":{"datum":0.5,"type":"quantitative","scale":{"domain":[0,1]},"axis":null},
"y":{"field":"c","type":"quantitative","scale":{"domain":[0,1],"nice":false},"axis":{"orient":"right","domain":false,"ticks":false,"values":[0.1,0.3,0.5,0.7,0.9],"labelExpr":"datum.value<0.5?'-'+format(0.5-datum.value,'.1f'):format(datum.value-0.5,'.1f')","labelFontSize":25.5,"labelPadding":9,"labelOffset":4,"title":null}},
"color":{"field":"v","type":"quantitative","legend":null,"scale":{"interpolate":"rgb","domain":[1,1.725,2.175,3.05,3.95,4.85,5.25,5.75,6],"range":["#000000","#4000b0","#0000ff","#00ffff","#00ff00","#ffff00","#ff8800","#ff0000","#ff0000"]}}}},
{"width":1654,"height":277,"layer":[
{"data":{"values":[{"t":0,"f":10000}]},"mark":{"type":"point","opacity":0},"encoding":{
"x":{"field":"t","type":"quantitative","scale":{"domain":[0,24],"nice":false,"zero":false},"axis":{"orient":"bottom","values":[0,1,2,3,4,5,6,7,8,9,10,11,12,13,14,15,16,17,18,19,20,21,22,23,24],"labelExpr":"datum.value>0&&datum.value%4==0?format((datum.value%24)*100,'04d'):''","labelPadding":20,"title":["hhmm","2012"],"titleFontSize":25.5,"titleX":-203,"titleY":34,"titleAlign":"left","titleLineHeight":28,"titleBaseline":"middle","tickSize":{"condition":{"test":"datum.value%4==0","value":4},"value":2}}},
"y":{"field":"f","type":"quantitative","scale":{"domain":[2400,153000],"nice":false,"zero":false},"axis":{"orient":"left","values":[5000,10000,15000,20000,25000,30000,35000,40000,45000,50000,55000,60000,65000,70000,75000,80000,85000,90000,95000,100000,105000,110000,115000,120000,125000,130000,135000,140000,145000,150000],"tickSize":{"condition":{"test":"datum.value%20000==0","value":18},"value":9},"labelExpr":"datum.value%20000!=0?'':format(datum.value/(datum.value<100000?10000:100000),'.1f')+'×10'","labelFontSize":25.5,"labelPadding":18,"labelOffset":4,"title":"ƒ (Hz)","titleX":-151,"titleY":142,"titleAngle":-90,"titleAlign":"center","titleBaseline":"middle"}}}},
{"data":{"values":[{"t":0,"f":10000}]},"mark":{"type":"point","opacity":0},"encoding":{
"x":{"field":"t","type":"quantitative","scale":{"domain":[0,24],"nice":false,"zero":false},"axis":{"orient":"top","values":[0,1,2,3,4,5,6,7,8,9,10,11,12,13,14,15,16,17,18,19,20,21,22,23,24],"labels":false,"title":null,"tickSize":{"condition":{"test":"datum.value%4==0","value":4},"value":2}}},
"y":{"field":"f","type":"quantitative","scale":{"domain":[2400,153000],"nice":false,"zero":false},"axis":{"orient":"right","values":[5000,10000,15000,20000,25000,30000,35000,40000,45000,50000,55000,60000,65000,70000,75000,80000,85000,90000,95000,100000,105000,110000,115000,120000,125000,130000,135000,140000,145000,150000],"labels":false,"title":null,"tickSize":{"condition":{"test":"datum.value%20000==0","value":18},"value":9}}}}},
{"data":{"values":[{"t":4,"f":10000}]},"mark":{"type":"point","opacity":0},"encoding":{
"x":{"field":"t","type":"quantitative","scale":{"domain":[0,24],"nice":false,"zero":false},"axis":{"orient":"bottom","domain":false,"ticks":false,"values":[4,24],"labelExpr":"datum.value==4?'Jun 05':'Jun 06'","labelPadding":51,"title":null}},
"y":{"field":"f","type":"quantitative","scale":{"domain":[2400,153000],"nice":false,"zero":false},"axis":{"orient":"left","domain":false,"ticks":false,"values":[20000,40000,60000,80000,100000,120000,140000],"labelExpr":"datum.value<100000?'4':'5'","labelAlign":"left","labelFontSize":16.5,"labelPadding":36,"labelOffset":-7,"title":"ϕ","titleX":-177,"titleY":154,"titleAngle":-90,"titleAlign":"center","titleBaseline":"middle"}}}},
{"data":{"values":[{"f":10000}]},"mark":{"type":"point","opacity":0},"encoding":{
"y":{"field":"f","type":"quantitative","scale":{"domain":[2400,153000],"nice":false,"zero":false},"axis":{"orient":"left","domain":false,"ticks":false,"labels":false,"title":"RTN","titleFontSize":14,"titleX":-169,"titleY":132,"titleAngle":-90,"titleAlign":"center","titleBaseline":"middle"}}}}
],"resolve":{"scale":{"x":"independent","y":"independent"},"axis":{"x":"independent","y":"independent"}}},
{"width":18,"height":277,"view":{"stroke":"black","strokeWidth":3},"data":{"name":"cb"},"mark":{"type":"rect","height":6.2,"width":18,"clip":true},"encoding":{"x":{"datum":0.5,"type":"quantitative","scale":{"domain":[0,1]},"axis":null},
"y":{"field":"c","type":"quantitative","scale":{"domain":[0,1],"nice":false},"axis":{"orient":"right","domain":false,"ticks":false,"values":[0.2222,0.5,0.7778],"labelExpr":"datum.value<0.4?'-50':datum.value<0.6?'0':'50'","labelFontSize":25.5,"labelPadding":9,"labelOffset":3,"title":"[deg]","titleX":87,"titleY":139,"titleAngle":-90}},
"color":{"field":"v","type":"quantitative","legend":null,"scale":{"interpolate":"rgb","domain":[1,1.725,2.175,3.05,3.95,4.85,5.25,5.75,6],"range":["#000000","#4000b0","#0000ff","#00ffff","#00ff00","#ffff00","#ff8800","#ff0000","#ff0000"]}}}}
],"columns":2,"align":"each","bounds":"flush","spacing":{"row":28,"column":18}}
